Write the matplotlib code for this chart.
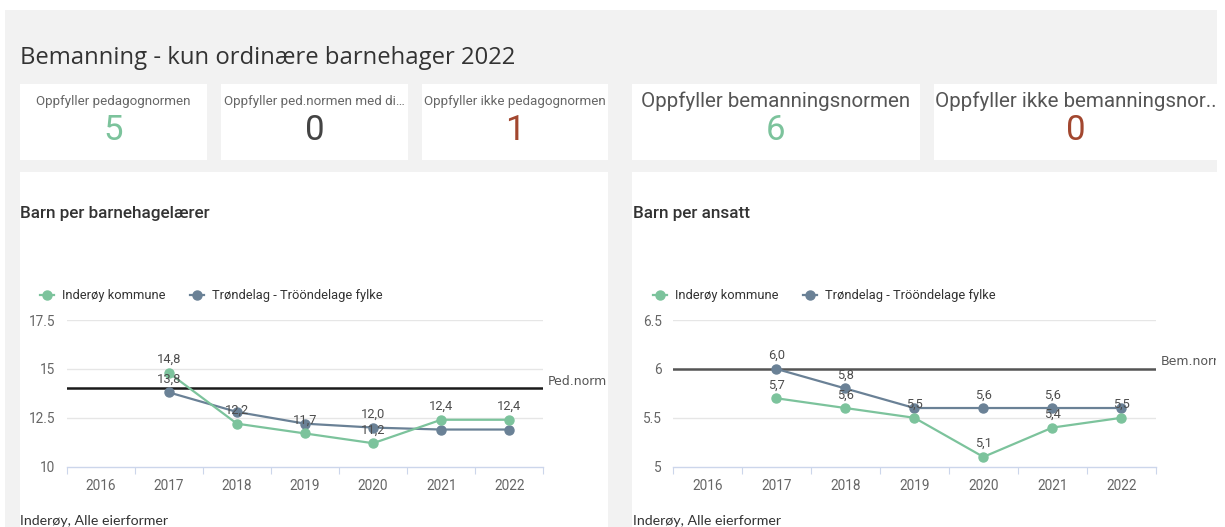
import numpy as np
import matplotlib.pyplot as plt
from matplotlib.patches import Rectangle
from matplotlib.lines import Line2D
from matplotlib.transforms import Bbox, TransformedBbox

plt.rcParams['font.family'] = ['Roboto', 'DejaVu Sans']

# data
years = ['2016', '2017', '2018', '2019', '2020', '2021', '2022']

laerer_inderoy = [np.nan, 14.8, 12.2, 11.7, 11.2, 12.4, 12.4]
laerer_trond = [np.nan, 13.8, 12.8, 12.2, 12.0, 11.9, 11.9]
laerer_inderoy_vis = [False, True, True, True, True, True, True]
laerer_trond_vis = [False, True, False, False, True, False, False]
ped_norm = 14.0

ansatt_inderoy = [np.nan, 5.7, 5.6, 5.5, 5.1, 5.4, 5.5]
ansatt_trond = [np.nan, 6.0, 5.8, 5.6, 5.6, 5.6, 5.6]
ansatt_inderoy_vis = [False, True, True, True, True, True, True]
ansatt_trond_vis = [False, True, True, False, True, True, False]
bem_norm = 6.0

kpi_labels = ['Oppfyller pedagognormen', 'Oppfyller ped.normen med di…',
              'Oppfyller ikke pedagognormen', 'Oppfyller bemanningsnormen',
              'Oppfyller ikke bemanningsnor..']
kpi_values = [5, 0, 1, 6, 0]

GREEN = '#7cc39c'
SLATE = '#6a8196'
W, H = 1225, 527

fig = plt.figure(figsize=(W / 100, H / 100), dpi=100)
fig.patch.set_facecolor('white')


def fx(x):
    return x / W


def fy(y):
    return 1 - y / H


def box(x0, y0, x1, y1, color):
    fig.patches.append(Rectangle((fx(x0), fy(y1)), (x1 - x0) / W, (y1 - y0) / H,
                                 transform=fig.transFigure, facecolor=color,
                                 edgecolor='none', zorder=-5))


# klipper tekst ved panelkanten til høyre
clip = TransformedBbox(Bbox([[0, 0], [1216 / W, 1]]), fig.transFigure)

# bakgrunn og kort
box(5, 10, 1217, 527, '#f2f2f2')
cards = [(20, 207), (221, 408), (422, 608), (632, 920), (934, 1217)]
for x0, x1 in cards:
    box(x0, 84, x1, 160, 'white')
box(20, 172, 608, 527, 'white')
box(632, 172, 1217, 527, 'white')

fig.text(fx(20), fy(58), 'Bemanning - kun ordinære barnehager 2022', family='Open Sans',
         fontsize=17.2, color='#333333', va='center', ha='left')

kpi_colors = [GREEN, '#444444', '#a2472f', GREEN, '#a2472f']
for i, (lab, val) in enumerate(zip(kpi_labels, kpi_values)):
    x0, x1 = cards[i]
    xc = (x0 + x1) / 2
    if i < 3:
        fig.text(fx(xc), fy(101), lab, fontsize=9.6, color='#666666', ha='center', va='center')
    elif i == 3:
        fig.text(fx(xc), fy(101), lab, fontsize=14.8, color='#555555', ha='center', va='center')
    else:
        t = fig.text(fx(x0 + 1), fy(101), lab, fontsize=14.8, color='#555555', ha='left',
                     va='center')
        t.set_clip_box(clip)
        t.set_clip_on(True)
    fig.text(fx(xc), fy(131), str(val), fontsize=25, color=kpi_colors[i],
             ha='center', va='center')


def fmt(v):
    return f'{v:.1f}'.replace('.', ',')


def chart(x0, x1, ylo, yhi, yticks, ytl, s1, s2, v1, v2, norm, norm_lab, norm_col,
          title, px0):
    ax = fig.add_axes([fx(x0), fy(466.7), (x1 - x0) / W, (466.7 - 320) / H])
    ax.set_zorder(2)
    ax.set_facecolor('none')
    pos = np.arange(len(years))
    ax.set_xlim(-0.5, len(years) - 0.5)
    ax.set_ylim(ylo, yhi)
    for s in ['top', 'right', 'left']:
        ax.spines[s].set_visible(False)
    ax.spines['bottom'].set_color('#ccd6eb')
    ax.spines['bottom'].set_linewidth(1)
    ax.set_yticks(yticks)
    ax.set_yticklabels(ytl)
    ax.tick_params(axis='y', length=0, pad=8, labelsize=9.8, labelcolor='#666666')
    ax.set_xticks(np.arange(-0.5, len(years), 1.0))
    ax.set_xticklabels([])
    ax.tick_params(axis='x', which='major', length=5, color='#ccd6eb', direction='out')
    ax.set_xticks(pos, minor=True)
    ax.set_xticklabels(years, minor=True)
    ax.tick_params(axis='x', which='minor', length=0, pad=9, labelsize=9.8,
                   labelcolor='#666666')
    for t in yticks[1:]:
        ax.axhline(t, color='#e6e6e6', lw=1, zorder=1)
    ax.axhline(norm, color=norm_col, lw=1.8, zorder=2)
    nt = ax.text(len(years) - 0.5 + 0.07, norm + (yhi - ylo) * 0.05, norm_lab,
                 family='DejaVu Sans', fontsize=9, color='#555555', va='center', ha='left')
    nt.set_clip_box(clip)
    nt.set_clip_on(True)
    ax.plot(pos, s1, color=GREEN, lw=1.6, marker='o', ms=6.5, zorder=4, clip_on=False)
    ax.plot(pos, s2, color=SLATE, lw=1.6, marker='o', ms=6.5, zorder=3, clip_on=False)
    off = (yhi - ylo) * 0.09
    for s, vis in [(s1, v1), (s2, v2)]:
        for p, v, show in zip(pos, s, vis):
            if show:
                ax.text(p, v + off, fmt(v), ha='center', va='center', fontsize=9.3,
                        color='#4d4d4d', zorder=5)
    # tittel og forklaring
    fig.text(fx(px0), fy(214), title, fontsize=12.3, fontweight='medium', color='#333333',
             va='center', ha='left')
    for mx, col, lab in [(px0 + 27, GREEN, 'Inderøy kommune'),
                         (px0 + 177, SLATE, 'Trøndelag - Tröndelage fylke'.replace('Trön', 'Tröön'))]:
        fig.lines.append(Line2D([fx(mx - 7), fx(mx + 7)], [fy(295), fy(295)],
                                transform=fig.transFigure, color=col, lw=1.6))
        fig.lines.append(Line2D([fx(mx)], [fy(295)], transform=fig.transFigure, color=col,
                                marker='o', ms=6.5))
        fig.text(fx(mx + 15), fy(295), lab, fontsize=9.3, color='#333333',
                 va='center', ha='left')
    fig.text(fx(px0), fy(521), 'Inderøy, Alle eierformer', family='Lato', fontsize=10.2,
             color='#333333', va='center', ha='left')
    return ax


chart(66.7, 543.3, 10, 17.5, [10, 12.5, 15, 17.5], ['10', '12.5', '15', '17.5'],
      laerer_inderoy, laerer_trond, laerer_inderoy_vis, laerer_trond_vis,
      ped_norm, 'Ped.norm', '#1a1a1a', 'Barn per barnehagelærer', 20)
chart(672.7, 1156, 5, 6.5, [5, 5.5, 6, 6.5], ['5', '5.5', '6', '6.5'],
      ansatt_inderoy, ansatt_trond, ansatt_inderoy_vis, ansatt_trond_vis,
      bem_norm, 'Bem.norm', '#555555', 'Barn per ansatt', 633)

fig.savefig('out.png', dpi=100)
